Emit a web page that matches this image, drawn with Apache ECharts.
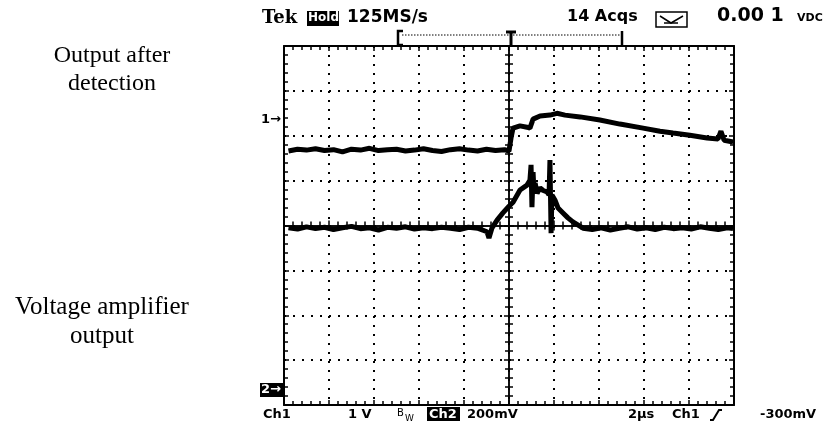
<!DOCTYPE html>
<html>
<head>
<meta charset="utf-8">
<script src="https://cdn.jsdelivr.net/npm/echarts@6/dist/echarts.min.js"></script>
<style>
  html, body { margin: 0; padding: 0; background: #fff; }
  #chart { width: 837px; height: 432px; }
</style>
</head>
<body>
<div id="chart"></div>
<script>
// time in µs (2 µs/div, trigger at 0), level in screen divisions from centre
const ch1Time = [-9.8, -9.4, -9.0, -8.6, -8.2, -7.8, -7.4, -7.0, -6.6, -6.2, -5.8, -5.4, -5.0,
  -4.6, -4.2, -3.8, -3.4, -3.0, -2.6, -2.2, -1.8, -1.4, -1.0, -0.6, -0.2, 0.0,
  0.09, 0.18, 0.49, 0.8, 0.93, 1.07, 1.38, 1.82, 2.13, 2.49, 3.16, 4.04, 4.93, 5.96,
  6.71, 7.29, 8.04, 8.8, 9.29, 9.42, 9.56, 9.96];
const ch1Div = [1.66, 1.70, 1.68, 1.71, 1.67, 1.69, 1.64, 1.70, 1.68, 1.72, 1.67, 1.69, 1.70,
  1.66, 1.68, 1.71, 1.67, 1.65, 1.69, 1.71, 1.68, 1.66, 1.70, 1.67, 1.69, 1.66,
  1.95, 2.17, 2.22, 2.19, 2.17, 2.37, 2.44, 2.46, 2.50, 2.46, 2.42, 2.35, 2.26, 2.17,
  2.10, 2.06, 2.01, 1.95, 1.93, 2.10, 1.90, 1.86];

const ch2Time = [-9.8, -9.4, -9.0, -8.6, -8.2, -7.8, -7.4, -7.0, -6.6, -6.2, -5.8, -5.4, -5.0,
  -4.6, -4.2, -3.8, -3.4, -3.0, -2.6, -2.2, -1.8, -1.4,
  -0.98, -0.89, -0.76, -0.53, -0.27, 0.0, 0.18, 0.49, 0.8, 0.93, 0.98, 1.02, 1.07, 1.11, 1.16,
  1.25, 1.38, 1.52, 1.69, 1.78, 1.82, 1.87, 1.91, 2.04, 2.18, 2.4, 2.62, 2.84, 3.29,
  3.7, 4.1, 4.5, 4.9, 5.3, 5.7, 6.1, 6.5, 6.9, 7.3, 7.7, 8.1, 8.5, 8.9, 9.3, 9.7, 9.96];
const ch2Div = [-0.05, -0.08, -0.03, -0.07, -0.04, -0.09, -0.05, -0.02, -0.07, -0.05, -0.10, -0.04, -0.06,
  -0.03, -0.08, -0.05, -0.07, -0.04, -0.06, -0.09, -0.04, -0.06,
  -0.14, -0.28, -0.06, 0.12, 0.28, 0.43, 0.52, 0.79, 0.90, 1.01, 1.35, 0.41, 1.19, 0.75, 0.95,
  0.72, 0.84, 0.78, 0.75, 0.68, 1.46, -0.17, 0.68, 0.57, 0.39, 0.28, 0.17, 0.08, -0.06,
  -0.09, -0.05, -0.10, -0.06, -0.03, -0.08, -0.05, -0.09, -0.04, -0.07, -0.05, -0.08, -0.03,
  -0.06, -0.09, -0.05, -0.07];

const sideLabels = ['Output after\ndetection', 'Voltage amplifier\noutput'];

const zip = (xs, ys) => xs.map((x, i) => [x, ys[i]]);

const myChart = echarts.init(document.getElementById('chart'), null, { renderer: 'canvas' });

const tickCol = '#000';
const dotted = { color: '#000', width: 2, type: [2, 7] };

// one scope axis; centre and border variants differ only in placement
const makeX = (extra) => Object.assign({
  type: 'value', min: -10, max: 10, interval: 2,
  axisLine: { onZero: false, lineStyle: { color: tickCol, width: 2 } },
  axisTick: { show: true, inside: true, length: 5, lineStyle: { color: tickCol, width: 1.5 } },
  minorTick: { show: true, splitNumber: 5, length: 4, lineStyle: { color: tickCol, width: 1.5 } },
  axisLabel: { show: false },
  splitLine: { show: false }
}, extra);
const makeY = (extra) => Object.assign({
  type: 'value', min: -4, max: 4, interval: 1,
  axisLine: { onZero: false, lineStyle: { color: tickCol, width: 2 } },
  axisTick: { show: true, inside: true, length: 5, lineStyle: { color: tickCol, width: 1.5 } },
  minorTick: { show: true, splitNumber: 5, length: 4, lineStyle: { color: tickCol, width: 1.5 } },
  axisLabel: { show: false },
  splitLine: { show: false }
}, extra);

const hdr = (text, x, y, size, extra) => ({
  type: 'text', left: x, top: y,
  style: Object.assign({ text: text, fill: '#000', font: 'bold ' + size + 'px "DejaVu Sans"' }, extra || {})
});

const options = {
  animation: false,
  backgroundColor: '#fff',
  grid: { left: 284, top: 46, width: 450, height: 359 },
  xAxis: [
    makeX({ position: 'bottom', splitLine: { show: true, lineStyle: dotted } }),
    makeX({ position: 'top' }),
    makeX({ position: 'bottom', axisLine: { onZero: true, onZeroAxisIndex: 0, lineStyle: { color: tickCol, width: 1.5 } }, axisTick: { show: true, inside: true, length: 5, lineStyle: { color: tickCol, width: 1.5 } } }),
    makeX({ position: 'bottom', axisLine: { onZero: true, onZeroAxisIndex: 0, lineStyle: { color: tickCol, width: 1.5 } }, axisTick: { show: true, inside: false, length: 5, lineStyle: { color: tickCol, width: 1.5 } } })
  ],
  yAxis: [
    makeY({ position: 'left', splitLine: { show: true, lineStyle: dotted } }),
    makeY({ position: 'right' }),
    makeY({ position: 'left', axisLine: { onZero: true, onZeroAxisIndex: 0, lineStyle: { color: tickCol, width: 1.5 } }, axisTick: { show: true, inside: true, length: 5, lineStyle: { color: tickCol, width: 1.5 } } }),
    makeY({ position: 'left', axisLine: { onZero: true, onZeroAxisIndex: 0, lineStyle: { color: tickCol, width: 1.5 } }, axisTick: { show: true, inside: false, length: 5, lineStyle: { color: tickCol, width: 1.5 } } })
  ],
  series: [
    {
      name: 'Ch1', type: 'line', xAxisIndex: 0, yAxisIndex: 0, z: 5,
      showSymbol: false, lineStyle: { color: '#000', width: 5 },
      data: zip(ch1Time, ch1Div)
    },
    {
      name: 'Ch2', type: 'line', xAxisIndex: 0, yAxisIndex: 0, z: 5,
      showSymbol: false, lineStyle: { color: '#000', width: 5 },
      data: zip(ch2Time, ch2Div)
    }
  ],
  graphic: [
    // side captions
    { type: 'text', x: 112, y: 70, style: { text: sideLabels[0], fill: '#000', font: '24px "Liberation Serif"', align: 'center', verticalAlign: 'middle', lineHeight: 28 } },
    { type: 'text', x: 102, y: 322, style: { text: sideLabels[1], fill: '#000', font: '25px "Liberation Serif"', align: 'center', verticalAlign: 'middle', lineHeight: 29 } },

    // header line
    { type: 'text', left: 262, top: 9, style: { text: 'Tek', fill: '#000', font: 'bold 18px "DejaVu Serif"' } },
    { type: 'rect', shape: { x: 307, y: 11, width: 32, height: 15 }, style: { fill: '#000' } },
    hdr('Hold:', 308, 12, 12, { fill: '#fff' }),
    hdr('125MS/s', 347, 9, 17),
    hdr('14 Acqs', 567, 9, 16),
    { type: 'rect', shape: { x: 656, y: 12, width: 31, height: 15 }, style: { fill: 'none', stroke: '#000', lineWidth: 1.5 } },
    { type: 'polyline', shape: { points: [[660, 16], [671, 23], [683, 16]] }, style: { fill: 'none', stroke: '#000', lineWidth: 1.5 } },
    { type: 'line', shape: { x1: 664, y1: 23, x2: 678, y2: 23 }, style: { stroke: '#000', lineWidth: 1.5 } },
    hdr('0.00 1', 717, 7, 19),
    hdr('VDC', 797, 13, 11),

    // record-length bracket with trigger mark
    { type: 'line', shape: { x1: 402, y1: 35, x2: 620, y2: 35 }, style: { stroke: '#000', lineWidth: 1, lineDash: [1.5, 1.5] } },
    { type: 'polyline', shape: { points: [[403, 31], [398, 31], [398, 45], [403, 45]] }, style: { fill: 'none', stroke: '#000', lineWidth: 2.5 } },
    { type: 'line', shape: { x1: 622, y1: 31, x2: 622, y2: 46 }, style: { stroke: '#000', lineWidth: 2.5 } },
    { type: 'line', shape: { x1: 506, y1: 32, x2: 516, y2: 32 }, style: { stroke: '#000', lineWidth: 3 } },
    { type: 'line', shape: { x1: 511, y1: 32, x2: 511, y2: 45 }, style: { stroke: '#000', lineWidth: 3 } },

    // channel ground markers
    hdr('1\u2192', 261, 113, 13),
    { type: 'rect', shape: { x: 260, y: 383, width: 23, height: 14 }, style: { fill: '#000' } },
    hdr('2\u2192', 261, 383, 13, { fill: '#fff' }),

    // bottom status line
    hdr('Ch1', 263, 408, 13),
    hdr('1 V', 348, 408, 13),
    hdr('B', 397, 408, 10, { font: '10px "DejaVu Sans"' }),
    hdr('W', 405, 414, 9, { font: '9px "DejaVu Sans"' }),
    { type: 'rect', shape: { x: 427, y: 407, width: 33, height: 14 }, style: { fill: '#000' } },
    hdr('Ch2', 429, 408, 13, { fill: '#fff' }),
    hdr('200mV', 467, 408, 13),
    hdr('2\u00b5s', 628, 408, 13),
    hdr('Ch1', 672, 408, 13),
    { type: 'polyline', shape: { points: [[710, 420], [713, 420], [719, 410], [722, 410]] }, style: { fill: 'none', stroke: '#000', lineWidth: 2 } },
    hdr('-300mV', 760, 408, 13)
  ]
};

myChart.setOption(options);
</script>
</body>
</html>
